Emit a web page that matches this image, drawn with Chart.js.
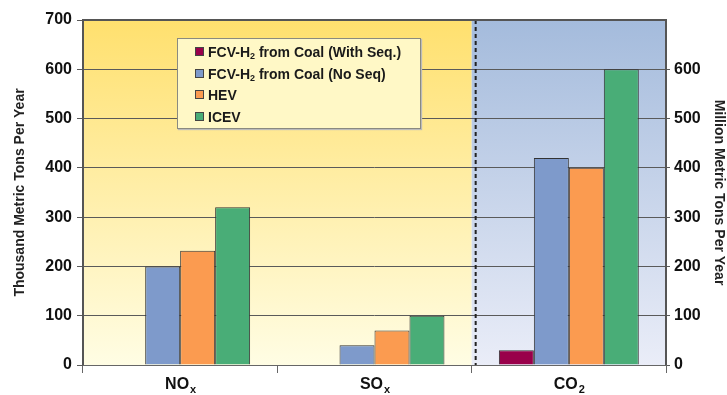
<!DOCTYPE html>
<html>
<head>
<meta charset="utf-8">
<script src="https://cdn.jsdelivr.net/npm/chart.js@4"></script>
<style>
  body { margin: 0; background: #fff; font-family: "Liberation Sans", Arial, sans-serif; }
  #wrap { position: relative; width: 727px; height: 395px; }
  #legend {
    position: absolute; left: 177px; top: 38px; width: 244px; height: 91px;
    background: #fff8c6; border: 1px solid #8a8a80; box-shadow: 1px 1px 1px #bbb;
    font-weight: bold; font-size: 14px; color: #1a1a1a; box-sizing: border-box;
    padding-top: 3px;
  }
  #legend .row { height: 21.6px; line-height: 21.6px; padding-left: 17px; white-space: nowrap; }
  #legend .sw { display: inline-block; width: 7px; height: 7px; border: 1px solid #444; margin-right: 4px; vertical-align: 1px; }
  #legend sub { font-size: 9px; vertical-align: -2px; line-height: 0; }
</style>
</head>
<body>
<div id="wrap">
  <canvas id="chart" width="727" height="395"></canvas>
  <div id="legend"></div>
</div>
<script>
// category names split as [main, subscript]
const categories = [["NO", "x"], ["SO", "x"], ["CO", "2"]];
const seriesNames = ["FCV-H<sub>2</sub> from Coal (With Seq.)", "FCV-H<sub>2</sub> from Coal (No Seq)", "HEV", "ICEV"];
const withSeq = [0, 0, 30];
const noSeq = [200, 40, 420];
const hev = [232, 70, 400];
const icev = [320, 100, 600];
const leftTicks = [0, 100, 200, 300, 400, 500, 600, 700];
const rightTicks = [0, 100, 200, 300, 400, 500, 600];
const colors = ["#99004a", "#7e9acb", "#fb9b50", "#49ad77"];

const font = "'Liberation Sans', Arial, sans-serif";

// legend as html so the subscripts stay real text
const legendEl = document.getElementById("legend");
seriesNames.forEach((name, i) => {
  legendEl.innerHTML += `<div class="row"><span class="sw" style="background:${colors[i]}"></span>${name}</div>`;
});

// yellow / blue backgrounds, dashed divider, category labels with subscripts
const bgPlugin = {
  id: "bgPanels",
  beforeDraw(chart) {
    const { ctx, chartArea: a, scales: { x } } = chart;
    const half = (x.getPixelForValue(1) - x.getPixelForValue(0)) / 2;
    const split = x.getPixelForValue(2) - half;
    let g = ctx.createLinearGradient(0, a.top, 0, a.bottom);
    g.addColorStop(0, "#ffe06e");
    g.addColorStop(1, "#fffde4");
    ctx.save();
    ctx.fillStyle = g;
    ctx.fillRect(a.left, a.top, split - a.left, a.bottom - a.top);
    g = ctx.createLinearGradient(0, a.top, 0, a.bottom);
    g.addColorStop(0, "#a4bbdc");
    g.addColorStop(1, "#eaedf8");
    ctx.fillStyle = g;
    ctx.fillRect(split, a.top, a.right - split, a.bottom - a.top);
    ctx.restore();
  },
  afterDatasetsDraw(chart) {
    const { ctx, chartArea: a, scales: { x } } = chart;
    const half = (x.getPixelForValue(1) - x.getPixelForValue(0)) / 2;
    const split = x.getPixelForValue(2) - half;
    ctx.save();
    ctx.strokeStyle = "#222";
    ctx.lineWidth = 2;
    ctx.setLineDash([4, 3]);
    ctx.beginPath();
    ctx.moveTo(split + 4, a.top);
    ctx.lineTo(split + 4, a.bottom);
    ctx.stroke();
    ctx.setLineDash([]);
    ctx.strokeStyle = "#555";
    ctx.lineWidth = 2;
    ctx.beginPath();
    ctx.moveTo(a.left, a.bottom);
    ctx.lineTo(a.left, a.top);
    ctx.lineTo(a.right, a.top);
    ctx.lineTo(a.right, a.bottom);
    ctx.stroke();

    // x labels
    ctx.fillStyle = "#111";
    ctx.textBaseline = "alphabetic";
    categories.forEach(([main, sub], i) => {
      const cx = x.getPixelForValue(i);
      ctx.font = "bold 16px " + font;
      const w1 = ctx.measureText(main).width;
      ctx.font = "bold 11px " + font;
      const w2 = ctx.measureText(sub).width;
      const left = cx - (w1 + w2) / 2;
      ctx.font = "bold 16px " + font;
      ctx.textAlign = "left";
      ctx.fillText(main, left, a.bottom + 24);
      ctx.font = "bold 11px " + font;
      ctx.fillText(sub, left + w1 + 1, a.bottom + 28);
    });
    ctx.restore();
  }
};

const data = [withSeq, noSeq, hev, icev];

new Chart(document.getElementById("chart"), {
  type: "bar",
  data: {
    labels: categories.map(c => c.join("")),
    datasets: data.map((d, i) => ({
      label: seriesNames[i].replace(/<\/?sub>/g, ""),
      data: d,
      backgroundColor: colors[i],
      borderColor: "#333",
      borderWidth: 1,
      barPercentage: 1,
      categoryPercentage: 0.72
    }))
  },
  options: {
    responsive: false,
    animation: false,
    layout: { padding: { top: 20, right: 0, left: 0, bottom: 0 } },
    plugins: { legend: { display: false }, tooltip: { enabled: false } },
    scales: {
      x: {
        grid: { drawOnChartArea: false, color: "#666", tickLength: 8, offset: true },
        border: { color: "#666" },
        ticks: { display: false },
        afterFit(s) { s.height = 30; }
      },
      y: {
        position: "left",
        min: 0, max: 700,
        afterBuildTicks(s) { s.ticks = leftTicks.map(v => ({ value: v })); },
        grid: { color: "#5a5a5a", lineWidth: 1, tickLength: 6 },
        border: { display: false },
        ticks: { color: "#111", font: { family: font, size: 16, weight: "bold" }, padding: 5 },
        title: { display: true, text: "Thousand Metric Tons Per Year", color: "#222", font: { family: font, size: 14, weight: "bold" }, padding: { top: 12, bottom: 0 } },
        afterFit(s) { s.width = 83; }
      },
      y1: {
        position: "right",
        min: 0, max: 700,
        afterBuildTicks(s) { s.ticks = rightTicks.map(v => ({ value: v })); },
        grid: { drawOnChartArea: false, color: "#5a5a5a", tickLength: 4 },
        border: { display: false },
        ticks: { color: "#111", font: { family: font, size: 16, weight: "bold" }, padding: 4 },
        title: { display: true, text: "Million Metric Tons Per Year", color: "#222", font: { family: font, size: 14, weight: "bold" }, padding: { top: 0, bottom: 6 } },
        afterFit(s) { s.width = 61; }
      }
    }
  },
  plugins: [bgPlugin]
});
</script>
</body>
</html>
